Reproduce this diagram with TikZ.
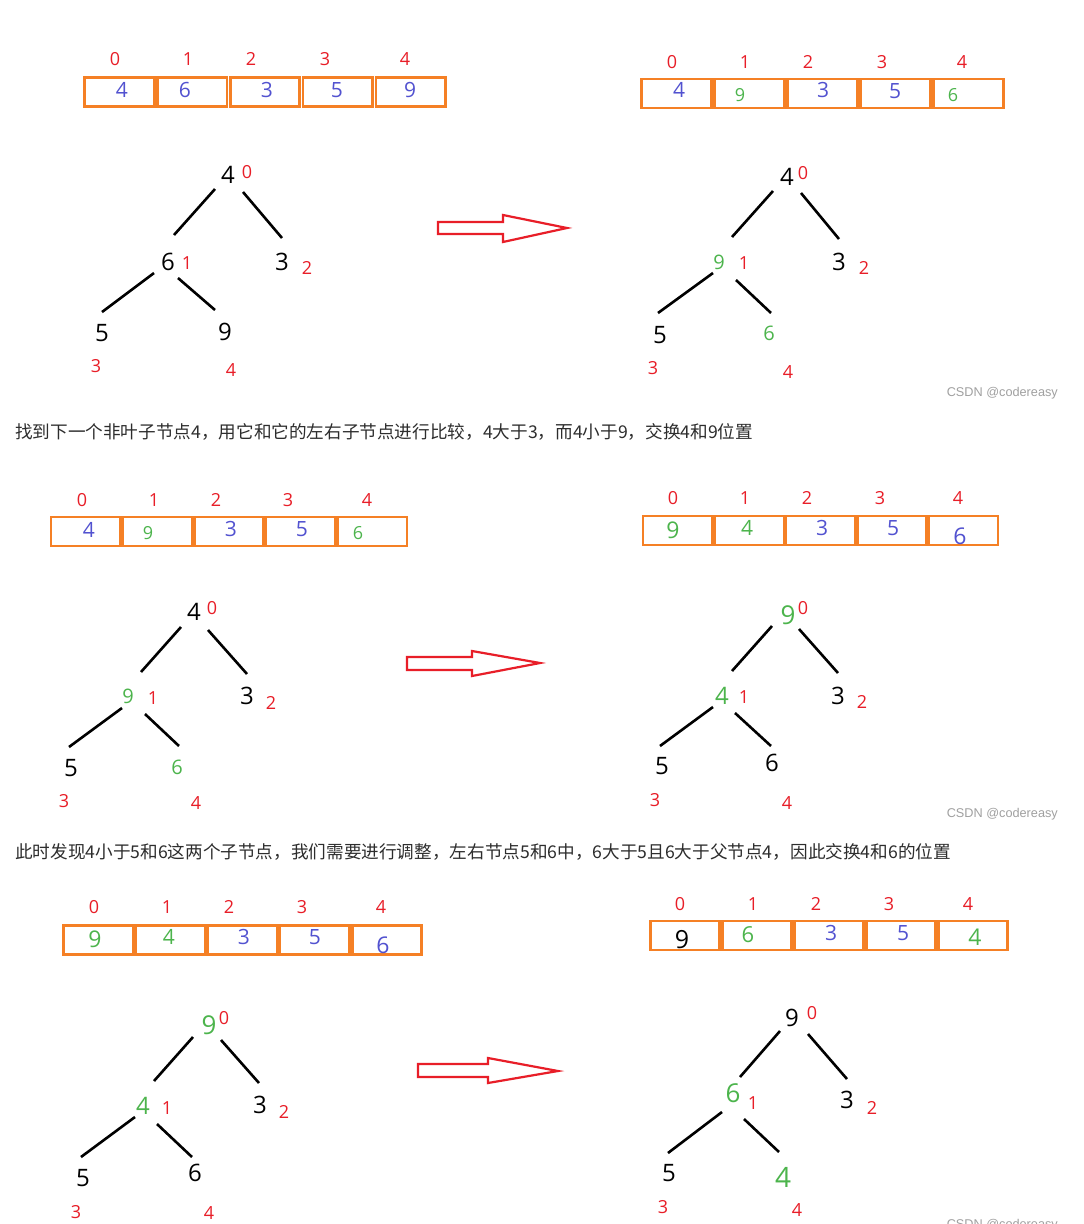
\documentclass[tikz,border=0pt]{standalone}
\usepackage{fontspec}
\setmainfont{Open Sans}
\newfontfamily\cjk{Noto Sans CJK SC}
\newfontfamily\wmfont{Liberation Sans}
\definecolor{cellorange}{RGB}{245,128,37}
\definecolor{idxred}{RGB}{232,30,40}
\definecolor{valblue}{RGB}{82,82,208}
\definecolor{valgreen}{RGB}{76,180,76}
\definecolor{notegray}{RGB}{45,45,45}
\definecolor{markgray}{RGB}{160,160,160}
\begin{document}
\begin{tikzpicture}[x=1pt,y=-1pt,
  cell/.style={draw=cellorange, line width=2.7pt, minimum width=69.5pt, minimum height=29pt, inner sep=0pt},
  val/.style={inner sep=0pt, text=valblue, font=\fontsize{21}{21}\selectfont},
  gval/.style={val, text=valgreen},
  idx/.style={inner sep=0pt, text=idxred, font=\fontsize{18}{18}\selectfont},
  tnum/.style={inner sep=0pt, text=black, font=\fontsize{24}{24}\selectfont},
  tidx/.style={inner sep=0pt, text=idxred, font=\fontsize{18}{18}\selectfont},
  treeline/.style={draw=black, line width=2.6pt},
  bigarrow/.style={draw=idxred, line width=2.2pt, line join=miter},
  note/.style={anchor=west, inner sep=0pt, text=notegray, font=\cjk\fontsize{17.62}{17.62}\selectfont},
  wmark/.style={anchor=east, inner sep=0pt, text=markgray, font=\wmfont\fontsize{12.7}{12.7}\selectfont}]
\useasboundingbox (0,0) rectangle (1084,1224);
\clip (0,0) rectangle (1084,1224);
\fill[white] (0,0) rectangle (1084,1224);
% step 1, left
\node[cell] (a1l0) at (119.4,92) {};
\node[cell] (a1l1) at (192.2,92) {};
\node[cell] (a1l2) at (265,92) {};
\node[cell] (a1l3) at (337.8,92) {};
\node[cell] (a1l4) at (410.6,92) {};
\node[idx] (i1l0) at (115,59) {0};
\node[idx] (i1l1) at (188,59) {1};
\node[idx] (i1l2) at (251,59) {2};
\node[idx] (i1l3) at (325,59) {3};
\node[idx] (i1l4) at (405,59) {4};
\node[val] (v1l0) at (122,90) {4};
\node[val] (v1l1) at (185,90) {6};
\node[val] (v1l2) at (267,90) {3};
\node[val] (v1l3) at (337,90) {5};
\node[val] (v1l4) at (410,90) {9};
\node[tnum] (t1l0) at (228,175) {4};
\node[tnum] (t1l1) at (168,262) {6};
\node[tnum] (t1l2) at (282,262) {3};
\node[tnum] (t1l3) at (102,333) {5};
\node[tnum] (t1l4) at (225,332) {9};
\node[tidx] (k1l0) at (247,172) {0};
\node[tidx] (k1l1) at (187,263) {1};
\node[tidx] (k1l2) at (307,268) {2};
\node[tidx] (k1l3) at (96,366) {3};
\node[tidx] (k1l4) at (231,370) {4};
\draw[treeline] ([shift={(-13,14)}]t1l0.center) -- ([shift={(6,-27)}]t1l1.center);
\draw[treeline] ([shift={(15,17)}]t1l0.center) -- ([shift={(0,-24)}]t1l2.center);
\draw[treeline] ([shift={(-14,11)}]t1l1.center) -- ([shift={(0,-21)}]t1l3.center);
\draw[treeline] ([shift={(10,16)}]t1l1.center) -- ([shift={(-10,-22)}]t1l4.center);
\draw[bigarrow] (438,222) -- (503,222) -- (503,215) -- (567,228) -- (503,242) -- (503,234) -- (438,234) -- cycle;
% step 1, right
\node[cell] (a1r0) at (676.5,93.5) {};
\node[cell] (a1r1) at (749.5,93.5) {};
\node[cell] (a1r2) at (822.5,93.5) {};
\node[cell] (a1r3) at (895.5,93.5) {};
\node[cell] (a1r4) at (968.5,93.5) {};
\node[idx] (i1r0) at (672,62) {0};
\node[idx] (i1r1) at (745,62) {1};
\node[idx] (i1r2) at (808,62) {2};
\node[idx] (i1r3) at (882,62) {3};
\node[idx] (i1r4) at (962,62) {4};
\node[val] (v1r0) at (679,90) {4};
\node[gval, font=\fontsize{18}{18}\selectfont] (v1r1) at (740,95) {9};
\node[val] (v1r2) at (823,90) {3};
\node[val] (v1r3) at (895,91) {5};
\node[gval, font=\fontsize{18}{18}\selectfont] (v1r4) at (953,95) {6};
\node[tnum] (t1r0) at (787,177) {4};
\node[tnum, text=valgreen, font=\fontsize{20}{20}\selectfont] (t1r1) at (719,262) {9};
\node[tnum] (t1r2) at (839,262) {3};
\node[tnum] (t1r3) at (660,335) {5};
\node[tnum, text=valgreen, font=\fontsize{20}{20}\selectfont] (t1r4) at (769,333) {6};
\node[tidx] (k1r0) at (803,173) {0};
\node[tidx] (k1r1) at (744,263) {1};
\node[tidx] (k1r2) at (864,268) {2};
\node[tidx] (k1r3) at (653,368) {3};
\node[tidx] (k1r4) at (788,372) {4};
\draw[treeline] ([shift={(-14,14)}]t1r0.center) -- ([shift={(13,-25)}]t1r1.center);
\draw[treeline] ([shift={(14,16)}]t1r0.center) -- ([shift={(0,-23)}]t1r2.center);
\draw[treeline] ([shift={(-6,11)}]t1r1.center) -- ([shift={(-2,-22)}]t1r3.center);
\draw[treeline] ([shift={(17,18)}]t1r1.center) -- ([shift={(2,-20)}]t1r4.center);
\node[wmark] (wm1) at (1058,393) {CSDN @codereasy};
\node[note] (txt1) at (15,432) {找到下一个非叶子节点4，用它和它的左右子节点进行比较，4大于3，而4小于9，交换4和9位置};
% step 2, left
\node[cell] (a2l0) at (85.8,531.5) {};
\node[cell] (a2l1) at (157.4,531.5) {};
\node[cell] (a2l2) at (229,531.5) {};
\node[cell] (a2l3) at (300.6,531.5) {};
\node[cell] (a2l4) at (372.2,531.5) {};
\node[idx] (i2l0) at (82,500) {0};
\node[idx] (i2l1) at (154,500) {1};
\node[idx] (i2l2) at (216,500) {2};
\node[idx] (i2l3) at (288,500) {3};
\node[idx] (i2l4) at (367,500) {4};
\node[val] (v2l0) at (89,530) {4};
\node[gval, font=\fontsize{18}{18}\selectfont] (v2l1) at (148,533) {9};
\node[val] (v2l2) at (231,529) {3};
\node[val] (v2l3) at (302,529) {5};
\node[gval, font=\fontsize{18}{18}\selectfont] (v2l4) at (358,533) {6};
\node[tnum] (t2l0) at (194,612) {4};
\node[tnum, text=valgreen, font=\fontsize{20}{20}\selectfont] (t2l1) at (128,696) {9};
\node[tnum] (t2l2) at (247,696) {3};
\node[tnum] (t2l3) at (71,768) {5};
\node[tnum, text=valgreen, font=\fontsize{20}{20}\selectfont] (t2l4) at (177,767) {6};
\node[tidx] (k2l0) at (212,608) {0};
\node[tidx] (k2l1) at (153,698) {1};
\node[tidx] (k2l2) at (271,703) {2};
\node[tidx] (k2l3) at (64,801) {3};
\node[tidx] (k2l4) at (196,803) {4};
\draw[treeline] ([shift={(-13,15)}]t2l0.center) -- ([shift={(13,-24)}]t2l1.center);
\draw[treeline] ([shift={(14,18)}]t2l0.center) -- ([shift={(0,-22)}]t2l2.center);
\draw[treeline] ([shift={(-6,12)}]t2l1.center) -- ([shift={(-2,-21)}]t2l3.center);
\draw[treeline] ([shift={(17,18)}]t2l1.center) -- ([shift={(2,-21)}]t2l4.center);
\draw[bigarrow] (407,657) -- (472,657) -- (472,651) -- (540,663) -- (472,676) -- (472,670) -- (407,670) -- cycle;
% step 2, right
\node[cell] (a2r0) at (677.7,530.5) {};
\node[cell] (a2r1) at (749.1,530.5) {};
\node[cell] (a2r2) at (820.5,530.5) {};
\node[cell] (a2r3) at (891.9,530.5) {};
\node[cell] (a2r4) at (963.3,530.5) {};
\node[idx] (i2r0) at (673,498) {0};
\node[idx] (i2r1) at (745,498) {1};
\node[idx] (i2r2) at (807,498) {2};
\node[idx] (i2r3) at (880,498) {3};
\node[idx] (i2r4) at (958,498) {4};
\node[gval, font=\fontsize{23}{23}\selectfont] (v2r0) at (673,530) {9};
\node[gval] (v2r1) at (747,528) {4};
\node[val] (v2r2) at (822,528) {3};
\node[val] (v2r3) at (893,528) {5};
\node[val, font=\fontsize{23}{23}\selectfont] (v2r4) at (960,536) {6};
\node[tnum, text=valgreen, font=\fontsize{26}{26}\selectfont] (t2r0) at (788,615) {9};
\node[tnum, text=valgreen] (t2r1) at (722,696) {4};
\node[tnum] (t2r2) at (838,696) {3};
\node[tnum] (t2r3) at (662,766) {5};
\node[tnum] (t2r4) at (772,763) {6};
\node[tidx] (k2r0) at (803,608) {0};
\node[tidx] (k2r1) at (744,697) {1};
\node[tidx] (k2r2) at (862,702) {2};
\node[tidx] (k2r3) at (655,800) {3};
\node[tidx] (k2r4) at (787,803) {4};
\draw[treeline] ([shift={(-16,11)}]t2r0.center) -- ([shift={(10,-25)}]t2r1.center);
\draw[treeline] ([shift={(11,14)}]t2r0.center) -- ([shift={(0,-23)}]t2r2.center);
\draw[treeline] ([shift={(-9,11)}]t2r1.center) -- ([shift={(-2,-20)}]t2r3.center);
\draw[treeline] ([shift={(13,17)}]t2r1.center) -- ([shift={(-1,-17)}]t2r4.center);
\node[wmark] (wm2) at (1058,814) {CSDN @codereasy};
\node[note] (txt2) at (15,852) {此时发现4小于5和6这两个子节点，我们需要进行调整，左右节点5和6中，6大于5且6大于父节点4，因此交换4和6的位置};
% step 3, left
\node[cell] (a3l0) at (98.1,940) {};
\node[cell] (a3l1) at (170.3,940) {};
\node[cell] (a3l2) at (242.5,940) {};
\node[cell] (a3l3) at (314.7,940) {};
\node[cell] (a3l4) at (386.9,940) {};
\node[idx] (i3l0) at (94,907) {0};
\node[idx] (i3l1) at (167,907) {1};
\node[idx] (i3l2) at (229,907) {2};
\node[idx] (i3l3) at (302,907) {3};
\node[idx] (i3l4) at (381,907) {4};
\node[gval, font=\fontsize{23}{23}\selectfont] (v3l0) at (95,939) {9};
\node[gval] (v3l1) at (169,937) {4};
\node[val] (v3l2) at (244,937) {3};
\node[val] (v3l3) at (315,937) {5};
\node[val, font=\fontsize{23}{23}\selectfont] (v3l4) at (383,945) {6};
\node[tnum, text=valgreen, font=\fontsize{26}{26}\selectfont] (t3l0) at (209,1025) {9};
\node[tnum, text=valgreen] (t3l1) at (143,1106) {4};
\node[tnum] (t3l2) at (260,1105) {3};
\node[tnum] (t3l3) at (83,1178) {5};
\node[tnum] (t3l4) at (195,1173) {6};
\node[tidx] (k3l0) at (224,1018) {0};
\node[tidx] (k3l1) at (167,1108) {1};
\node[tidx] (k3l2) at (284,1112) {2};
\node[tidx] (k3l3) at (76,1212) {3};
\node[tidx] (k3l4) at (209,1213) {4};
\draw[treeline] ([shift={(-16,12)}]t3l0.center) -- ([shift={(11,-25)}]t3l1.center);
\draw[treeline] ([shift={(12,15)}]t3l0.center) -- ([shift={(-1,-22)}]t3l2.center);
\draw[treeline] ([shift={(-8,11)}]t3l1.center) -- ([shift={(-2,-21)}]t3l3.center);
\draw[treeline] ([shift={(14,18)}]t3l1.center) -- ([shift={(-3,-16)}]t3l4.center);
\draw[bigarrow] (418,1064) -- (488,1064) -- (488,1058) -- (558,1071) -- (488,1083) -- (488,1077) -- (418,1077) -- cycle;
% step 3, right
\node[cell] (a3r0) at (685,935.5) {};
\node[cell] (a3r1) at (757,935.5) {};
\node[cell] (a3r2) at (829,935.5) {};
\node[cell] (a3r3) at (901,935.5) {};
\node[cell] (a3r4) at (973,935.5) {};
\node[idx] (i3r0) at (680,904) {0};
\node[idx] (i3r1) at (753,904) {1};
\node[idx] (i3r2) at (816,904) {2};
\node[idx] (i3r3) at (889,904) {3};
\node[idx] (i3r4) at (968,904) {4};
\node[val, text=black, font=\fontsize{25}{25}\selectfont] (v3r0) at (682,940) {9};
\node[gval, font=\fontsize{22}{22}\selectfont] (v3r1) at (748,935) {6};
\node[val] (v3r2) at (831,933) {3};
\node[val] (v3r3) at (903,933) {5};
\node[gval, font=\fontsize{23}{23}\selectfont] (v3r4) at (975,937) {4};
\node[tnum] (t3r0) at (792,1018) {9};
\node[tnum, text=valgreen, font=\fontsize{26}{26}\selectfont] (t3r1) at (733,1093) {6};
\node[tnum] (t3r2) at (847,1100) {3};
\node[tnum] (t3r3) at (669,1173) {5};
\node[tnum, text=valgreen, font=\fontsize{28}{28}\selectfont] (t3r4) at (783,1177) {4};
\node[tidx] (k3r0) at (812,1013) {0};
\node[tidx] (k3r1) at (753,1103) {1};
\node[tidx] (k3r2) at (872,1108) {2};
\node[tidx] (k3r3) at (663,1207) {3};
\node[tidx] (k3r4) at (797,1210) {4};
\draw[treeline] ([shift={(-12,13)}]t3r0.center) -- ([shift={(7,-16)}]t3r1.center);
\draw[treeline] ([shift={(16,16)}]t3r0.center) -- ([shift={(0,-21)}]t3r2.center);
\draw[treeline] ([shift={(-11,19)}]t3r1.center) -- ([shift={(-1,-20)}]t3r3.center);
\draw[treeline] ([shift={(11,26)}]t3r1.center) -- ([shift={(-4,-25)}]t3r4.center);
\node[wmark] (wm3) at (1058,1225) {CSDN @codereasy};
\end{tikzpicture}
\end{document}
